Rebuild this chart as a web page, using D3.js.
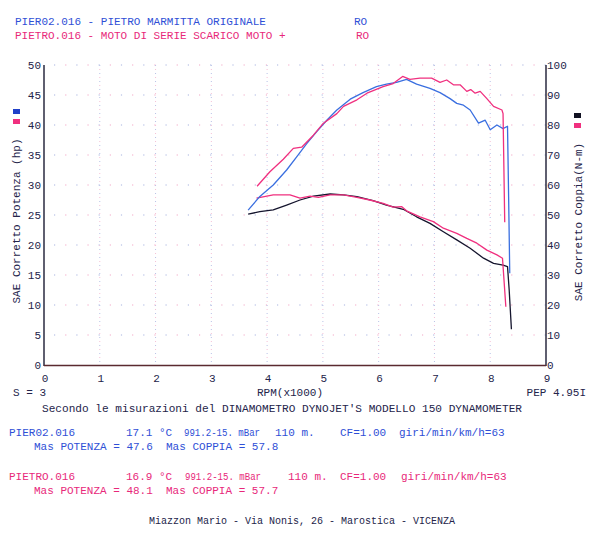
<!DOCTYPE html>
<html>
<head>
<meta charset="utf-8">
<script src="https://cdn.jsdelivr.net/npm/d3@7"></script>
<style>
  body { margin: 0; background: #fff; }
  text { font-family: "Liberation Mono", "DejaVu Sans Mono", monospace; font-size: 11px; }
</style>
</head>
<body>
<div id="chart"></div>
<script>
// tick labels
let rpmTicks = [0, 1, 2, 3, 4, 5, 6, 7, 8, 9]
let hpTicks = [0, 5, 10, 15, 20, 25, 30, 35, 40, 45, 50]
let nmTicks = [0, 10, 20, 30, 40, 50, 60, 70, 80, 90, 100]

// PIER02.016 power (hp) - blue
let pierPowerRpm = [3.66, 3.87, 4.11, 4.35, 4.53, 4.71, 4.89, 5.07, 5.25, 5.49, 5.72, 5.96, 6.14, 6.32, 6.50, 6.68, 6.92, 7.10, 7.28, 7.40, 7.52, 7.64, 7.79, 7.91, 8.00, 8.12, 8.23, 8.31, 8.33, 8.35]
let pierPowerHp = [25.8, 28.1, 30.0, 32.5, 34.7, 36.9, 38.9, 40.8, 42.5, 44.3, 45.4, 46.4, 46.8, 47.1, 47.6, 46.8, 46.1, 45.4, 44.4, 43.6, 43.3, 42.5, 40.3, 40.8, 39.2, 40.0, 39.4, 39.8, 28.0, 15.3]

// PIETRO.016 power (hp) - pink
let pietroPowerRpm = [3.82, 4.05, 4.29, 4.47, 4.62, 4.83, 5.01, 5.25, 5.37, 5.61, 5.79, 6.08, 6.26, 6.43, 6.56, 6.74, 6.95, 7.10, 7.22, 7.34, 7.46, 7.58, 7.65, 7.73, 7.82, 7.94, 8.06, 8.21, 8.23, 8.26]
let pietroPowerHp = [29.8, 32.2, 34.3, 36.1, 36.3, 38.3, 40.3, 41.9, 43.1, 44.2, 45.3, 46.4, 46.9, 48.1, 47.6, 47.8, 47.8, 47.1, 47.5, 46.7, 46.7, 45.6, 45.9, 45.3, 45.6, 44.4, 43.1, 42.5, 41.9, 23.8]

// PIER02.016 torque (N-m) - black
let pierTorqueRpm = [3.66, 3.87, 4.11, 4.35, 4.59, 4.83, 5.13, 5.37, 5.61, 5.90, 6.14, 6.44, 6.68, 6.92, 7.16, 7.40, 7.64, 7.88, 8.06, 8.23, 8.31, 8.34, 8.38]
let pierTorqueNm = [50.3, 51.1, 51.7, 53.3, 55.0, 56.3, 57.0, 56.7, 56.1, 54.8, 53.3, 51.9, 49.4, 47.2, 44.4, 41.7, 38.9, 35.6, 33.9, 33.3, 32.8, 25.0, 11.9]

// PIETRO.016 torque (N-m) - pink
let pietroTorqueRpm = [3.81, 4.11, 4.41, 4.59, 4.77, 4.92, 5.13, 5.37, 5.61, 5.84, 6.08, 6.26, 6.41, 6.50, 6.74, 6.98, 7.16, 7.40, 7.58, 7.76, 7.94, 8.12, 8.22, 8.28]
let pietroTorqueNm = [55.6, 56.7, 56.7, 55.6, 56.3, 55.9, 56.7, 56.7, 55.9, 55.0, 53.9, 52.6, 52.8, 51.4, 49.4, 47.8, 45.6, 43.9, 42.2, 40.6, 38.3, 36.7, 35.6, 19.4]

const blue = "#3a6fe0", pink = "#f0307f", dark = "#15152e"
const blueText = "#2f4fd6", pinkText = "#e8287a", navy = "#24244a"

var width = 600, height = 543

let svg = d3.select("#chart")
    .append("svg")
    .attr("width", width)
    .attr("height", height)

let x = d3.scaleLinear().domain([0, 9]).range([44, 546])
let yHp = d3.scaleLinear().domain([0, 50]).range([365, 65])
let yNm = d3.scaleLinear().domain([0, 100]).range([365, 65])

// dotted grid
let grid = svg.append("g")
hpTicks.slice(1).forEach(t => {
    [["#a8b4e0", 0], ["#f2a8c6", -11.16]].forEach(([c, off]) => {
        grid.append("line")
            .attr("x1", x(0)).attr("x2", x(9))
            .attr("y1", yHp(t)).attr("y2", yHp(t))
            .attr("stroke", c).attr("stroke-width", 1.2)
            .attr("stroke-dasharray", "1.2 21.1")
            .attr("stroke-dashoffset", off - 10)
    })
})
rpmTicks.slice(1, 9).forEach(t => {
    [["#b8c2e6", 0], ["#f5c0d6", -4]].forEach(([c, off]) => {
        grid.append("line")
            .attr("x1", x(t)).attr("x2", x(t))
            .attr("y1", yHp(50)).attr("y2", yHp(0))
            .attr("stroke", c).attr("stroke-width", 1)
            .attr("stroke-dasharray", "1 7")
            .attr("stroke-dashoffset", off)
    })
})

// axes frame
svg.append("line").attr("x1", x(0)).attr("x2", x(0)).attr("y1", yHp(50)).attr("y2", yHp(0) + 1)
    .attr("stroke", "#2a2a40").attr("stroke-width", 1.5)
svg.append("line").attr("x1", x(9)).attr("x2", x(9)).attr("y1", yHp(50)).attr("y2", yHp(0) + 1)
    .attr("stroke", "#2a2a40").attr("stroke-width", 1.5)
svg.append("line").attr("x1", x(0)).attr("x2", x(9)).attr("y1", yHp(0) + 0.5).attr("y2", yHp(0) + 0.5)
    .attr("stroke", "#5a2a30").attr("stroke-width", 1.5)

// tick labels
svg.selectAll(".lt").data(hpTicks).enter().append("text")
    .attr("x", 41).attr("y", d => yHp(d) + 4)
    .attr("text-anchor", "end").attr("fill", navy)
    .text(d => d)
svg.selectAll(".rt").data(nmTicks).enter().append("text")
    .attr("x", 547).attr("y", d => yNm(d) + 4)
    .attr("fill", navy)
    .text(d => d)
svg.selectAll(".bt").data(rpmTicks).enter().append("text")
    .attr("x", d => x(d) + 1).attr("y", 382)
    .attr("text-anchor", "middle").attr("fill", navy)
    .text(d => d)

// axis titles
svg.append("text")
    .attr("transform", "translate(20,221) rotate(-90)")
    .attr("text-anchor", "middle").attr("fill", navy)
    .text("SAE Corretto Potenza (hp)")
svg.append("text")
    .attr("transform", "translate(582,222) rotate(-90)")
    .attr("text-anchor", "middle").attr("fill", navy)
    .text("SAE Corretto Coppia(N-m)")

// legend squares
svg.append("rect").attr("x", 13).attr("y", 109).attr("width", 7).attr("height", 5).attr("fill", "#2040c8")
svg.append("rect").attr("x", 13).attr("y", 119).attr("width", 7).attr("height", 5).attr("fill", pink)
svg.append("rect").attr("x", 574).attr("y", 113).attr("width", 7).attr("height", 5).attr("fill", "#111122")
svg.append("rect").attr("x", 574).attr("y", 123).attr("width", 7).attr("height", 5).attr("fill", pink)

// curves
function drawCurve(rpm, vals, yScale, color) {
    let pts = rpm.map((r, i) => [r, vals[i]])
    svg.append("path")
        .datum(pts)
        .attr("fill", "none")
        .attr("stroke", color)
        .attr("stroke-width", 1.3)
        .attr("stroke-linejoin", "round")
        .attr("d", d3.line().x(d => x(d[0])).y(d => yScale(d[1])))
}
drawCurve(pierTorqueRpm, pierTorqueNm, yNm, dark)
drawCurve(pietroTorqueRpm, pietroTorqueNm, yNm, pink)
drawCurve(pierPowerRpm, pierPowerHp, yHp, blue)
drawCurve(pietroPowerRpm, pietroPowerHp, yHp, pink)

// text helper
function txt(s, px, py, color, anchor, len) {
    let t = svg.append("text")
        .attr("x", px).attr("y", py)
        .attr("fill", color)
        .attr("text-anchor", anchor || "start")
        .style("white-space", "pre")
        .text(s)
    if (len) t.attr("textLength", len).attr("lengthAdjust", "spacingAndGlyphs")
}

// header
txt("PIER02.016 - PIETRO MARMITTA ORIGINALE", 15, 25, blueText)
txt("RO", 354, 25, blueText)
txt("PIETRO.016 - MOTO DI SERIE SCARICO MOTO +", 15, 39, pinkText)
txt("RO", 356, 39, pinkText)

// under the axis
txt("S = 3", 13, 396, navy)
txt("RPM(x1000)", 290, 396, navy, "middle")
txt("PEP 4.95I", 586, 396, navy, "end")
txt("Secondo le misurazioni del DINAMOMETRO DYNOJET'S MODELLO 150 DYNAMOMETER", 42, 412, navy, "start", 480)

// run info
txt("PIER02.016", 9, 436, blueText)
txt("17.1 °C", 126, 436, blueText)
txt("991.2-15. mBar", 184, 436, blueText, "start", 76)
txt("110 m.", 275, 436, blueText)
txt("CF=1.00", 340, 436, blueText)
txt("giri/min/km/h=63", 399, 436, blueText)
txt("Mas POTENZA = 47.6  Mas COPPIA = 57.8", 34, 450, blueText)

txt("PIETRO.016", 9, 480, pinkText)
txt("16.9 °C", 126, 480, pinkText)
txt("991.2-15. mBar", 185, 480, pinkText, "start", 76)
txt("110 m.", 288, 480, pinkText)
txt("CF=1.00", 340, 480, pinkText)
txt("giri/min/km/h=63", 401, 480, pinkText)
txt("Mas POTENZA = 48.1  Mas COPPIA = 57.7", 34, 494, pinkText)

// footer
svg.append("text")
    .attr("x", 302).attr("y", 524)
    .attr("text-anchor", "middle").attr("fill", navy)
    .style("font-size", "10px")
    .text("Miazzon Mario - Via Nonis, 26 - Marostica - VICENZA")
</script>
</body>
</html>
